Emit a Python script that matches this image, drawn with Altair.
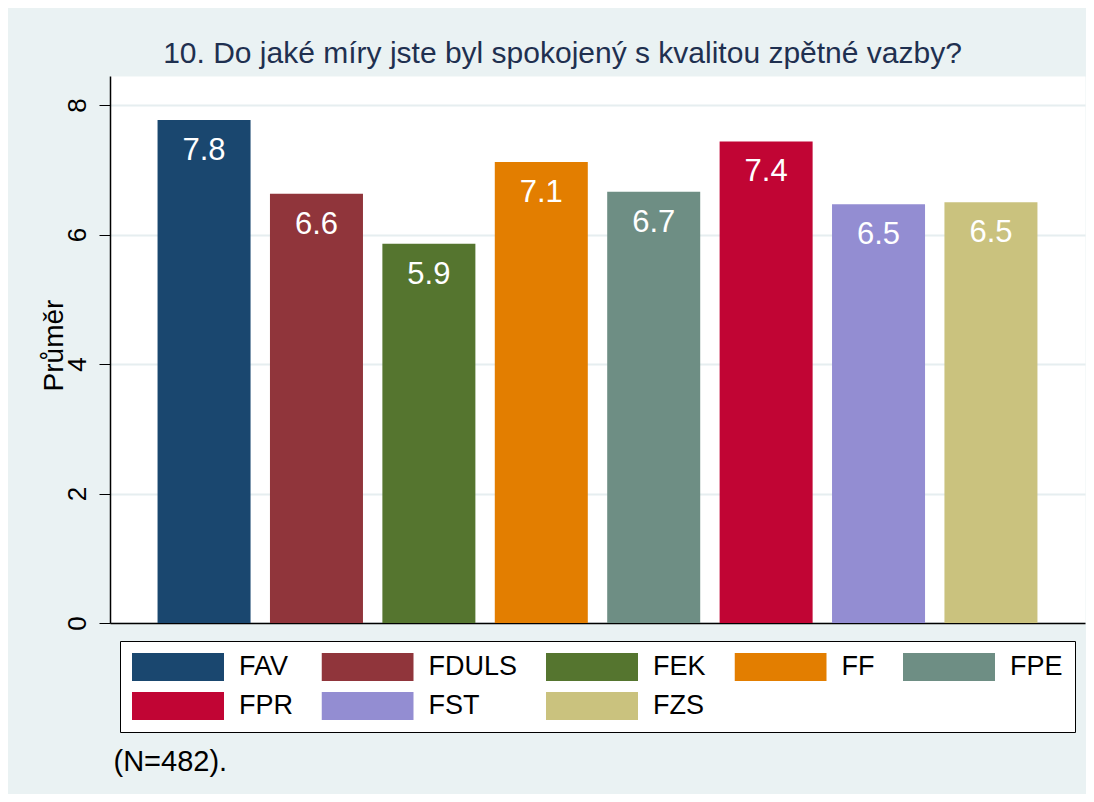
import altair as alt
import pandas as pd

faculties = ["FAV", "FDULS", "FEK", "FF", "FPE", "FPR", "FST", "FZS"]
means = [7.77, 6.63, 5.86, 7.12, 6.66, 7.44, 6.47, 6.50]
colors = ["#1a476f", "#90353b", "#55752f", "#e37e00", "#6e8e84", "#c10534", "#938dd2", "#cac27e"]
y_ticks = [0, 2, 4, 6, 8]
title_text = "10. Do jaké míry jste byl spokojený s kvalitou zpětné vazby?"
y_title = "Průměr"
note_text = "(N=482)."

df = pd.DataFrame({"fac": faculties, "mean": means})
FONT = "Liberation Sans"

x_enc = alt.X(
    "fac:N",
    sort=faculties,
    scale=alt.Scale(paddingInner=0.1726, paddingOuter=0.423),
    axis=alt.Axis(
        labels=False, ticks=False, grid=False, domain=True,
        domainColor="black", domainWidth=1.5,
        title=note_text, titleX=3, titleY=147, titleAlign="left",
        titleBaseline="alphabetic", titleFontSize=29, titleFontWeight="normal",
        titleColor="black", titleFont=FONT,
    ),
)
y_enc = alt.Y(
    "mean:Q",
    scale=alt.Scale(domain=[0, 8.45], nice=False, zero=True),
    axis=alt.Axis(
        values=y_ticks, format="d",
        labelAngle=270, labelAlign="center", labelBaseline="bottom",
        labelPadding=9, labelFontSize=26, labelColor="black", labelFont=FONT,
        tickSize=11, tickColor="black", tickWidth=1,
        domainColor="black", domainWidth=1.5,
        gridColor="#e6eef0", gridWidth=2,
        title=y_title, titleAngle=270, titleFontSize=28, titleFontWeight="normal",
        titleX=-56, titleY=269, titleAlign="center", titleBaseline="middle",
        titleColor="black", titleFont=FONT,
    ),
)

base = alt.Chart(df).encode(x=x_enc, y=y_enc)

bars = base.mark_bar().encode(
    color=alt.Color(
        "fac:N",
        sort=faculties,
        scale=alt.Scale(domain=faculties, range=colors),
        legend=alt.Legend(
            title=None, orient="none", legendX=10, legendY=565,
            columns=5, direction="horizontal",
            fillColor="white", strokeColor="black", padding=12,
            symbolType="M-1,-0.3043L1,-0.3043L1,0.3043L-1,0.3043Z",
            symbolSize=8464, clipHeight=28, symbolStrokeWidth=0,
            labelOffset=15, columnPadding=28.5, rowPadding=11,
            labelFontSize=27, labelFont=FONT, labelColor="black", labelLimit=0,
        ),
    )
)

labels = base.mark_text(
    baseline="alphabetic", dy=40, color="white", fontSize=31, font=FONT
).encode(text=alt.Text("mean:Q", format=".1f"))

chart = alt.layer(bars, labels).properties(
    width=975,
    height=547,
    autosize=alt.AutoSizeParams(type="none"),
    padding={"left": 102, "top": 68, "right": 1, "bottom": 171},
    background="#eaf2f3",
    title=alt.TitleParams(
        text=title_text, fontSize=30, font=FONT, color="#1f3050",
        fontWeight="normal", anchor="middle", frame="bounds",
        baseline="alphabetic", offset=11, dy=28,
    ),
).configure_view(fill="white", stroke="transparent")

chart.save("out.html", embed_options={"renderer": "svg", "actions": False})
